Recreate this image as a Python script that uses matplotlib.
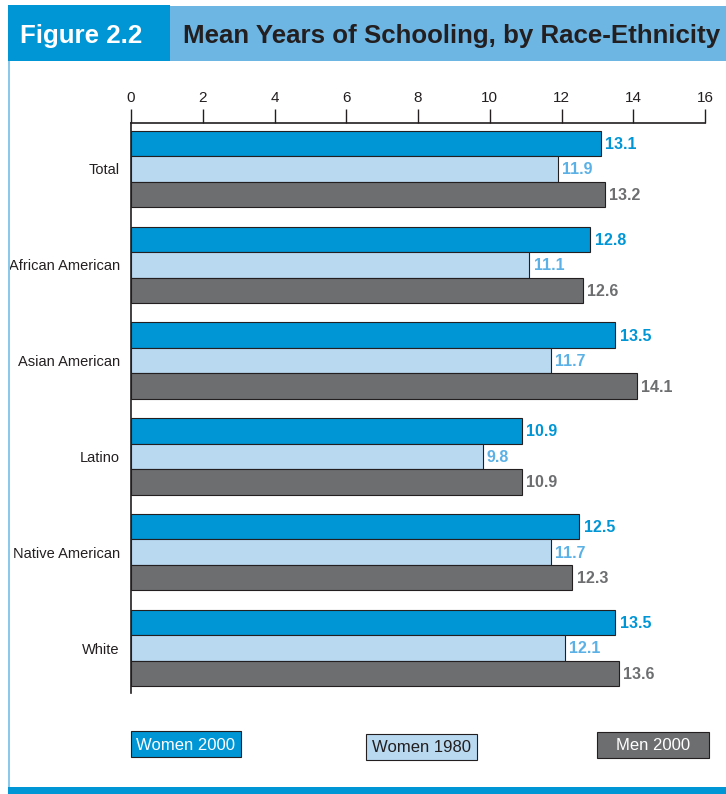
import matplotlib
matplotlib.use("Agg")
import matplotlib.pyplot as plt
from matplotlib.patches import Rectangle
import numpy as np

categories = ["Total", "African American", "Asian American", "Latino", "Native American", "White"]
women_2000 = [13.1, 12.8, 13.5, 10.9, 12.5, 13.5]
women_1980 = [11.9, 11.1, 11.7, 9.8, 11.7, 12.1]
men_2000 = [13.2, 12.6, 14.1, 10.9, 12.3, 13.6]
series_names = ["Women 2000", "Women 1980", "Men 2000"]
x_ticks = [0, 2, 4, 6, 8, 10, 12, 14, 16]

C_W2000 = "#0096d6"
C_W1980 = "#b9d9f1"
C_M2000 = "#6d6e70"
C_HEAD = "#6db5e3"
LBL_COLORS = ["#0096d6", "#5bb1e5", "#6d6e70"]
FONT = "Liberation Sans"

W, H = 726, 794
fig = plt.figure(figsize=(W / 100, H / 100), dpi=100)


def fx(px):
    return px / W


def fy(py):
    return 1 - py / H


# header band
fig.patches.append(Rectangle((fx(8), fy(61)), fx(162), (61 - 5) / H, transform=fig.transFigure,
                             facecolor=C_W2000, edgecolor="none"))
fig.patches.append(Rectangle((fx(170), fy(61)), fx(556), (61 - 6) / H, transform=fig.transFigure,
                             facecolor=C_HEAD, edgecolor="none"))
fig.text(fx(20), fy(36), "Figure 2.2", color="white", fontsize=18.6, family=FONT,
         fontweight="bold", va="center", ha="left")
fig.text(fx(183), fy(36), "Mean Years of Schooling, by Race-Ethnicity", color="#231f20",
         fontsize=18.6, family=FONT, fontweight="bold", va="center", ha="left")
# left border and bottom rule
fig.patches.append(Rectangle((fx(8), fy(790)), fx(2), (790 - 61) / H, transform=fig.transFigure,
                             facecolor="#8cc8ec", edgecolor="none"))
fig.patches.append(Rectangle((fx(8), 0), fx(718), 7 / H, transform=fig.transFigure,
                             facecolor=C_W2000, edgecolor="none"))

# main axes: x 0 -> px 131, 16 -> px 705; top 123, bottom 693
ax = fig.add_axes([fx(131), fy(693), fx(705 - 131), (693 - 123) / H])
unit = 95.8  # px per group
bar_h = 25.5 / unit
centers = (169 - 123) / unit + np.arange(len(categories))
offsets = [-bar_h, 0, bar_h]
colors = [C_W2000, C_W1980, C_M2000]
for vals, off, col, lc in zip([women_2000, women_1980, men_2000], offsets, colors, LBL_COLORS):
    ax.barh(centers + off, vals, height=bar_h, color=col, edgecolor="#231f20", linewidth=0.8)
    for c, v in zip(centers + off, vals):
        ax.text(v + 0.12, c + 0.01, f"{v:.1f}", color=lc, fontsize=11.5, va="center", ha="left",
                family=FONT, fontweight="bold")

ax.set_xlim(0, 16)
ax.set_ylim((693 - 123) / unit, 0)
ax.set_yticks(centers)
ax.set_yticklabels(categories, family=FONT, fontsize=10.5, color="#231f20")
ax.tick_params(axis="y", length=0, pad=8)
ax.xaxis.tick_top()
ax.set_xticks(x_ticks)
ax.set_xticklabels([str(t) for t in x_ticks], family=FONT, fontsize=11, color="#231f20")
ax.tick_params(axis="x", direction="out", length=10, width=1, pad=3, color="#231f20")
ax.spines["right"].set_visible(False)
ax.spines["bottom"].set_visible(False)
ax.spines["top"].set_color("#231f20")
ax.spines["left"].set_color("#231f20")
ax.spines["top"].set_linewidth(1.2)
ax.spines["left"].set_linewidth(1.2)

# legend boxes
legend_boxes = [(131, 731, 110, 26), (366, 734, 111, 26), (597, 732, 112, 26)]
legend_text = ["white", "#231f20", "white"]
for (x0, y0, w, h), name, col, tc in zip(legend_boxes, series_names, colors, legend_text):
    fig.patches.append(Rectangle((fx(x0), fy(y0 + h)), fx(w), h / H, transform=fig.transFigure,
                                 facecolor=col, edgecolor="#231f20", linewidth=0.8))
    fig.text(fx(x0 + w / 2), fy(y0 + h / 2 + 1), name, color=tc, fontsize=12, family=FONT,
             ha="center", va="center")

fig.savefig("out.png", dpi=100)
